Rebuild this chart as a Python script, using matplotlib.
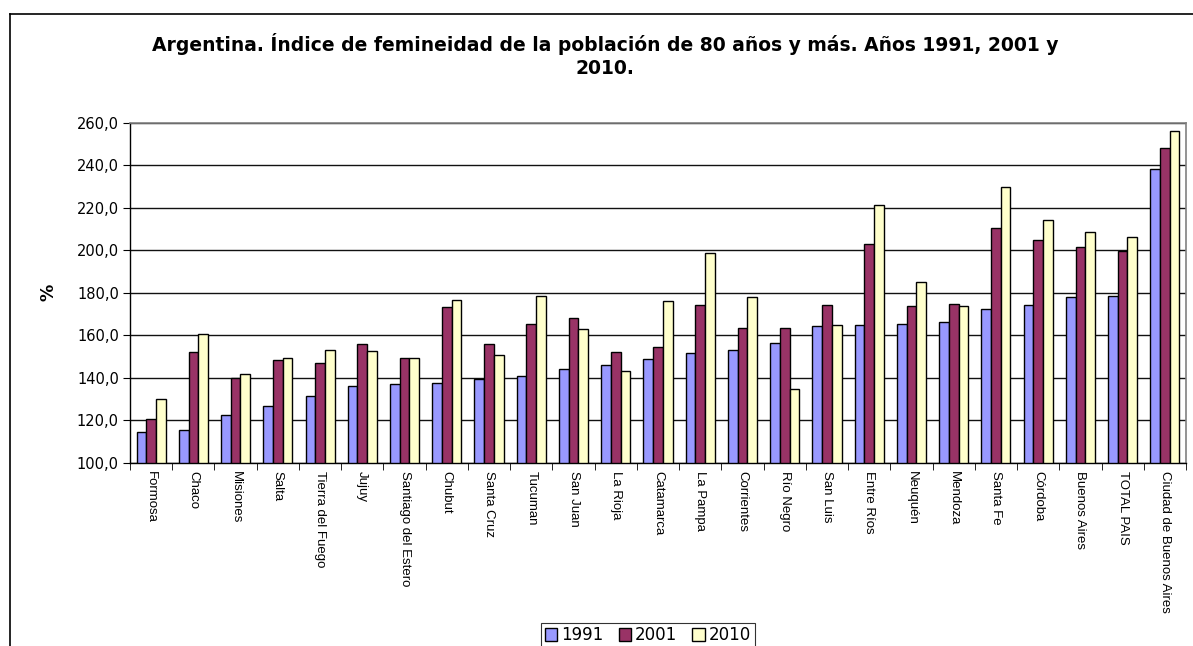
import matplotlib
matplotlib.use("Agg")
import matplotlib.pyplot as plt
import numpy as np
from matplotlib.lines import Line2D

provinces = ["Formosa", "Chaco", "Misiones", "Salta", "Tierra del Fuego", "Jujuy",
             "Santiago del Estero", "Chubut", "Santa Cruz", "Tucuman", "San Juan",
             "La Rioja", "Catamarca", "La Pampa", "Corrientes", "Río Negro", "San Luis",
             "Entre Ríos", "Neuquén", "Mendoza", "Santa Fe", "Córdoba", "Buenos Aires",
             "TOTAL PAIS", "Ciudad de Buenos Aires"]
years = ["1991", "2001", "2010"]
v1991 = [114.6, 115.4, 122.3, 126.8, 131.4, 136.0, 136.9, 137.6, 139.2, 140.7, 144.2,
         146.0, 148.9, 151.5, 152.9, 156.2, 164.3, 164.8, 165.4, 166.0, 172.2, 174.3,
         177.9, 178.5, 238.4]
v2001 = [120.7, 152.0, 139.9, 148.2, 146.8, 155.7, 149.4, 173.3, 155.7, 165.4, 168.2,
         152.2, 154.3, 174.2, 163.2, 163.5, 174.4, 202.9, 173.6, 174.9, 210.5, 204.6,
         201.3, 199.5, 248.0]
v2010 = [130.0, 160.7, 141.6, 149.4, 153.0, 152.7, 149.5, 176.4, 150.5, 178.6, 163.1,
         143.2, 176.2, 198.8, 178.1, 134.7, 164.8, 221.4, 185.2, 173.6, 229.8, 214.1,
         208.8, 206.4, 255.9]
yticks = [100, 120, 140, 160, 180, 200, 220, 240, 260]
title = "Argentina. Índice de femineidad de la población de 80 años y más. Años 1991, 2001 y\n2010."

colors = ["#9999FF", "#993366", "#FFFFCC"]

plt.rcParams['font.family'] = ['Liberation Sans', 'DejaVu Sans']

fig = plt.figure(figsize=(11.93, 6.46), dpi=100)
ax = fig.add_axes([130/1193, 1 - 462.7/646, (1186 - 130)/1193, (462.7 - 122.7)/646])

x = np.arange(len(provinces))
w = 0.23
series = [v1991, v2001, v2010]
handles = []
for i, (vals, c) in enumerate(zip(series, colors)):
    vals = np.array(vals)
    b = ax.bar(x + (i - 1) * w, vals - 100, bottom=100, width=w, color=c,
               edgecolor="black", linewidth=1.0, label=years[i], zorder=3)
    handles.append(b)

ax.set_xlim(-0.5, len(provinces) - 0.5)
ax.set_ylim(100, 260)
ax.set_yticks(yticks)
ax.set_yticklabels([f"{t:.1f}".replace(".", ",") for t in yticks], fontsize=10.5,
                   family=['DejaVu Sans'])
ax.yaxis.grid(True, color="#111111", linewidth=1.0, zorder=0)
ax.set_axisbelow(True)

ax.set_xticks(x)
ax.set_xticklabels(provinces, rotation=-90, fontsize=9.5, va="top", ha="center")
ax.tick_params(axis="x", length=0, pad=6)
ax.set_xticks(np.arange(len(provinces) + 1) - 0.5, minor=True)
ax.tick_params(axis="x", which="minor", length=5, direction="out", color="black")
ax.tick_params(axis="y", length=5, direction="out", color="black", pad=3)

for s in ["top", "right"]:
    ax.spines[s].set_color("#808080")
    ax.spines[s].set_linewidth(1.2)
for s in ["left", "bottom"]:
    ax.spines[s].set_color("black")
    ax.spines[s].set_linewidth(1.0)

ax.set_ylabel("%", fontsize=12.5, fontweight="bold", labelpad=14, family=['DejaVu Sans'])

fig.text(605/1193, 1 - 33/646, title, ha="center", va="top", fontsize=13.5,
         fontweight="bold", linespacing=1.3, family=['DejaVu Sans'])

leg = fig.legend(handles=handles, labels=years, loc="upper center",
                 bbox_to_anchor=(648/1193, 1 - 623/646), ncol=3,
                 prop={'family': 'DejaVu Sans', 'size': 12},
                 frameon=True, fancybox=False, edgecolor="black", handlelength=0.75,
                 handleheight=0.75, handletextpad=0.25, columnspacing=0.9,
                 borderpad=0.2, borderaxespad=0)
leg.get_frame().set_linewidth(0.8)

# outer chart frame
fig.add_artist(Line2D([10/1193, 10/1193], [0, 1 - 14/646], transform=fig.transFigure,
                      color="black", linewidth=1.2))
fig.add_artist(Line2D([10/1193, 1], [1 - 14/646, 1 - 14/646], transform=fig.transFigure,
                      color="black", linewidth=1.2))

fig.savefig("out.png", dpi=100)
